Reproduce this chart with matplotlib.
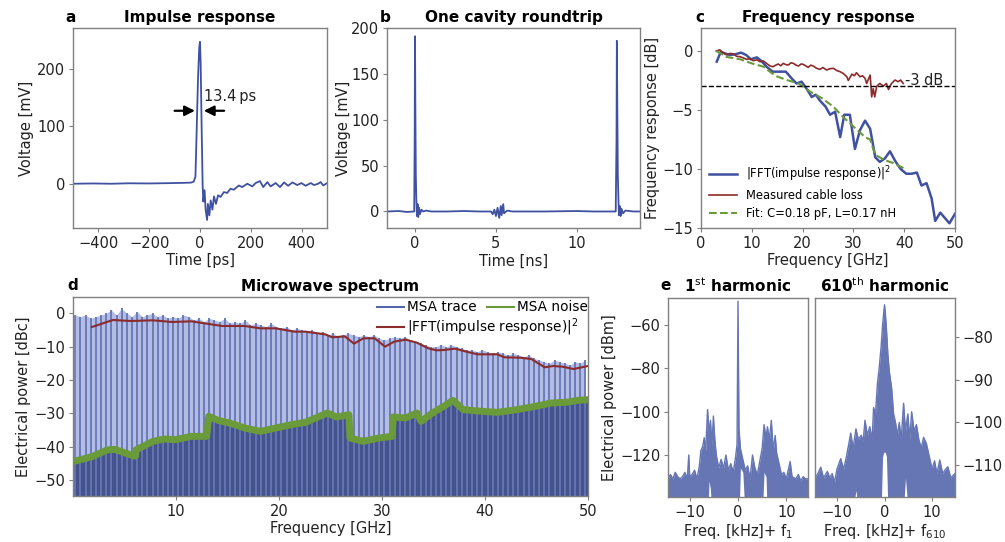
import numpy as np
import matplotlib
matplotlib.use("Agg")
import matplotlib.pyplot as plt
from matplotlib.lines import Line2D

plt.rcParams.update({"font.family": "DejaVu Sans", "font.size": 10.5,
                     "axes.edgecolor": "#808080", "xtick.color": "#808080",
                     "ytick.color": "#808080", "xtick.labelcolor": "#222222",
                     "ytick.labelcolor": "#222222", "axes.labelcolor": "#222222",
                     "axes.linewidth": 1.0, "xtick.major.pad": 2.5, "ytick.major.pad": 2.5,
                     "xtick.major.size": 3, "ytick.major.size": 3, "axes.labelpad": 2})
BLUE, RED, GREEN, NAVY = "#3f51a0", "#8c2b2b", "#6a9a3a", "#45538c"
EBLUE = "#6676b4"

# ---- a: impulse response ----
t_a = [-500, -420, -350, -280, -200, -130, -70, -35, -25, -18, -13, -8, -3, 0, 2.6, 6.6,
       10.5, 13, 18, 22, 28, 31, 37, 42, 49, 55, 63, 71, 81, 94, 107, 120, 133, 153, 166,
       186, 206, 219, 236, 249, 265, 278, 298, 315, 331, 347, 364, 383, 399, 416, 436,
       449, 465, 475, 485, 500]
v_a = [0, 0.5, 0, 0.8, 0.5, 1, 1.5, 2, 3.5, 12, 94, 181, 237, 247, 210, 94,
       -5, -31, -11, -45, -63, -35, -55, -29, -45, -22, -35, -20, -23, -14.5, -16, -8.7, -10.4, -3, -5.8,
       0, -4.6, 1.2, 4.6, -5.8, 2.9, -4.6, 1.2, -5.8, 2.3, -3.5, 2.3, -2.3, 1.2, -3.5, 1.2,
       -2.3, 0, 3, -3, 1]

# ---- b: one cavity roundtrip ----
t_b = [-1.73, -1.0, -0.5, -0.05, -0.02, 0, 0.02, 0.05, 0.08, 0.12, 0.16, 0.2, 0.25, 0.3,
       0.4, 0.5, 0.7, 1, 2, 3, 4, 4.7, 4.8, 4.9, 5.0, 5.1, 5.2, 5.3, 5.35, 5.45, 5.5, 5.7,
       6, 8, 10, 11, 12, 12.4, 12.45, 12.47, 12.5, 12.53, 12.57, 12.6, 12.65, 12.7, 12.75,
       12.85, 13, 13.5, 13.9]
v_b = [0, 0.5, -0.5, 0, 80, 191, 120, 40, 15, -5, 8, -6, 4, -3,
       2, 0, 1, 0, 0, 0.5, 0, 0, -3, 2, -5, 4, -7, 6, -4, 8, -2, 1,
       0, 0, 0.5, 0, 0, 0, 80, 186, 110, 40, 12, -4, 6, -5, 3,
       -2, 1, 0, 0]

# ---- c: frequency response ----
f_fft = [3.1, 3.9, 4.7, 5.7, 6.7, 7.9, 8.9, 9.8, 11.0, 11.9, 12.9, 14.1, 15.2, 16.7, 17.8,
         18.8, 19.8, 20.8, 21.8, 22.6, 23.4, 24.5, 25.4, 26.4, 27.4, 28.2, 29.3, 30.3, 31.3,
         32.3, 33.3, 34.3, 35.2, 36.2, 37.2, 38.2, 39.3, 40.4, 41.5, 42.5, 43.4, 44.4, 45.4,
         46.1, 47.1, 48.9, 50.0]
p_fft = [-0.9, -0.06, -0.2, -0.34, -0.28, -0.14, -0.34, -0.7, -0.54, -0.85, -1.33, -1.75,
         -1.75, -1.75, -2.3, -2.75, -2.6, -3.2, -3.9, -3.7, -4.2, -4.7, -5.4, -5.15, -7.3,
         -5.4, -5.4, -8.3, -6.7, -5.9, -6.6, -9.0, -9.4, -9.1, -8.5, -9.3, -10.0, -10.4,
         -10.4, -10.3, -11.4, -11.2, -12.5, -14.4, -13.7, -14.6, -13.8]
f_cable = [3.0, 3.7, 4.3, 5.05, 5.7, 6.4, 7.0, 7.7, 8.4, 9.0, 9.6, 10.3, 11.0, 11.6, 12.3,
           12.9, 13.6, 14.2, 14.7, 15.2, 15.7, 16.2, 16.7, 17.2, 17.7, 18.2, 18.7, 19.2,
           19.7, 20.1, 20.6, 21.1, 21.6, 22.1, 22.7, 23.4, 24.0, 24.7, 25.4, 26.1, 26.7,
           27.4, 28.0, 28.7, 29.0, 29.7, 30.2, 30.6, 31.3, 31.8, 32.3, 32.6, 33.3, 33.6,
           33.9, 34.2, 34.6, 35.2, 35.9, 36.5, 36.9, 37.5, 38.2, 38.8, 39.3, 39.8]
p_cable = [0.0, 0.1, -0.15, -0.33, -0.2, -0.25, -0.45, -0.48, -0.6, -0.71, -0.65, -0.82,
           -0.75, -0.9, -0.85, -1.05, -1.27, -1.33, -1.2, -1.1, -1.25, -1.05, -1.15, -1.19,
           -1.0, -1.05, -1.2, -1.27, -1.1, -1.13, -1.25, -1.39, -1.2, -1.27, -1.45, -1.56,
           -1.4, -1.61, -1.5, -1.47, -1.65, -1.76, -1.9, -2.18, -2.5, -1.96, -2.1, -1.84,
           -2.18, -2.1, -2.32, -2.75, -2.04, -3.89, -3.18, -3.89, -2.98, -2.75, -2.98,
           -2.75, -3.26, -2.75, -2.46, -2.6, -2.46, -2.75]
f_fit = [3.0, 5.0, 7.7, 10.0, 12.3, 14.6, 16.9, 19.2, 21.5, 23.8, 26.0, 28.0, 30.0, 32.3,
         33.3, 34.3, 36.2, 37.9, 40.0]
p_fit = [0.0, -0.5, -0.7, -1.05, -1.33, -2.1, -2.46, -2.75, -3.45, -4.0, -4.7, -5.6, -6.4,
         -7.3, -7.5, -8.8, -9.25, -9.5, -9.95]

# ---- d: microwave spectrum ----
comb_f = list(np.arange(0.25, 50, 0.5))
comb_p = [-0.5, -1, -0.5, -1.5, -1, -0.5, 0, 1, -0.5, 1.5, 0, -1, 0.5, -1, -0.5, 0, -1, -0.5,
          -1.5, -1, -1.5, -0.5, -1, -2, -1.5, -2.5, -1.5, -2, -2.5, -1.5, -3, -2.5, -3, -2,
          -3.5, -3, -3.5, -4, -3, -4, -4.5, -4, -5, -4.5, -5, -5.5, -5, -6, -5.5, -6.5, -6,
          -7, -6.5, -6, -6.5, -7, -6.5, -7, -6.5, -7.5, -8, -7.5, -7, -7.5, -7, -8, -8.5,
          -9, -9.5, -10, -10, -9.5, -10, -9.5, -10, -10.5, -11, -11, -11.5, -11, -11.5, -12,
          -11.5, -12, -12.5, -12, -12.5, -13, -12.5, -13.5, -14, -14.5, -15, -14, -14.5,
          -15, -15.5, -14.5, -15, -14]
noise_f = [0.0, 1.86, 3.34, 4.08, 5.2, 5.94, 6.1, 6.12, 7.8, 8.9, 10.0, 11.5, 13.0, 13.2, 14.1,
           15.2, 16.7, 18.2, 19.7, 21.2, 22.6, 23.8, 24.7, 25.6, 26.8, 26.9, 28.2, 29.7,
           31.0, 31.1, 32.3, 33.4, 33.8, 34.9, 36.0, 36.9, 37.9, 39.7, 41.2, 43.1, 44.9,
           46.4, 47.9, 49.0, 50.0]
noise_p = [-44.5, -43.0, -41.0, -40.8, -42.0, -42.8, -42.8, -41.0, -38.4, -37.7, -37.9,
           -36.9, -36.9, -30.9, -32.1, -32.9, -34.4, -35.4, -34.4, -33.4, -32.7, -31.1,
           -29.9, -31.1, -30.4, -37.4, -38.4, -37.4, -36.9, -31.1, -31.4, -29.9, -32.4,
           -29.9, -27.9, -26.1, -28.9, -29.4, -29.7, -28.9, -27.9, -26.9, -26.7, -26.1, -25.9]
ffti_f = [1.86, 3.9, 5.6, 7.8, 9.65, 11.5, 13.0, 14.5, 16.7, 18.2, 19.7, 21.5, 22.6, 24.5,
          25.2, 26.4, 27.3, 28.2, 29.3, 30.3, 31.2, 32.3, 33.4, 34.5, 35.3, 36.0, 37.1,
          38.2, 39.3, 41.2, 41.9, 43.4, 44.5, 45.8, 46.6, 47.5, 48.6, 50.0]
ffti_p = [-4.1, -2.0, -2.3, -2.1, -2.6, -2.4, -3.1, -3.8, -3.8, -4.5, -4.5, -5.5, -5.5,
          -6.3, -7.2, -6.9, -9.1, -7.5, -7.5, -10.0, -8.5, -7.9, -8.8, -10.5, -11.1, -11.0,
          -10.6, -11.5, -12.3, -12.3, -13.2, -13.3, -13.7, -16.2, -15.8, -16.0, -16.7, -15.8]

# ---- e: harmonics ----
h1_f = [-14.5, -14, -13.5, -13, -12.5, -12, -11.5, -11, -10.5, -10.2, -10, -9.5, -9, -8.5,
        -8, -7.7, -7.3, -7, -6.7, -6.3, -6, -5.7, -5.4, -5.1, -4.8, -4.5, -4, -3.5, -3,
        -2.5, -2, -1.5, -1, -0.5, -0.2, 0, 0.2, 0.5, 1, 1.5, 2, 2.5, 3, 3.5, 4, 4.5, 5,
        5.4, 5.8, 6.1, 6.5, 6.9, 7.3, 7.7, 8, 8.5, 9, 9.5, 10, 10.8, 11.2, 12, 12.5, 13,
        13.5, 14, 14.5]
h1_top = [-131, -129, -131, -128, -130, -131, -130, -128, -131, -120, -130, -129, -127,
          -131, -125, -118, -116, -112, -118, -99, -110, -104, -116, -102, -113, -120, -126,
          -122, -126, -120, -127, -124, -128, -121, -115, -49, -108, -117, -122, -127, -125,
          -131, -120, -126, -129, -123, -117, -106, -112, -107, -113, -104, -118, -111, -119,
          -124, -129, -128, -131, -123, -130, -131, -129, -132, -130, -131, -131]
h1_bot = [-150, -150, -150, -150, -150, -150, -150, -150, -150, -150, -150, -150, -150,
          -150, -150, -150, -150, -150, -150, -150, -132, -136, -150, -150, -150, -150,
          -150, -150, -150, -150, -150, -150, -150, -150, -150, -150, -150, -126, -128,
          -150, -150, -150, -150, -150, -150, -150, -150, -128, -130, -150, -150, -150,
          -150, -150, -150, -150, -150, -150, -150, -150, -150, -150, -150, -150, -150,
          -150, -150]
h610_f = [-14.6, -14, -13.4, -12.8, -12, -11.5, -11, -10.5, -10, -9.2, -8.6, -8, -7.5, -7.1,
          -6.6, -6, -5.5, -4.9, -4.5, -4.1, -3.6, -3.1, -2.6, -2.3, -1.9, -1.5, -1.1, -0.7,
          -0.4, -0.15, 0, 0.15, 0.4, 0.7, 1, 1.5, 1.9, 2.3, 2.7, 3.1, 3.5, 4, 4.4, 4.9, 5.3,
          5.7, 6.2, 6.7, 7.2, 7.7, 8.2, 8.8, 9.4, 10, 10.5, 11, 11.6, 12.2, 12.8, 13.3, 13.9,
          14.8]
h610_top = [-113, -112, -110.5, -113, -111.5, -113, -112, -114, -111, -108.5, -111, -108,
            -105, -102.5, -106, -101.5, -104, -103, -104.5, -99.5, -103, -101, -104, -96.5,
            -98, -91, -87, -82, -77, -74, -72.4, -74, -78, -84, -88, -92, -98, -100, -103,
            -100, -104, -95.5, -102, -98, -104, -97.5, -102, -100.5, -104, -106, -103.5,
            -105, -108, -111, -109, -112, -108.8, -112, -111, -110.4, -113, -112]
h610_bot = [-120, -120, -120, -120, -120, -120, -120, -120, -120, -120, -120, -120, -120,
            -120, -120, -116, -120, -120, -120, -120, -120, -120, -120, -120, -120, -120,
            -120, -120, -108, -107, -107, -107, -108, -120, -120, -120, -120, -120, -120,
            -120, -120, -120, -113, -120, -120, -120, -120, -120, -120, -120, -120, -120,
            -120, -120, -120, -120, -120, -120, -120, -120, -120, -120]

W, H = 1005, 542
fig = plt.figure(figsize=(W / 100, H / 100), dpi=100)
def box(l, t, r, b):
    return [l / W, 1 - b / H, (r - l) / W, (b - t) / H]

ax_a = fig.add_axes(box(73, 28, 327, 228))
ax_b = fig.add_axes(box(387, 28, 640, 228))
ax_c = fig.add_axes(box(701, 28, 955, 228))
ax_d = fig.add_axes(box(72.7, 297, 588, 496))
ax_e1 = fig.add_axes(box(668, 298, 808, 497))
ax_e2 = fig.add_axes(box(815, 298, 955, 497))
TITLE = dict(fontweight="bold", fontsize=11, pad=4)

# a
ax_a.plot(t_a, v_a, color=BLUE, lw=1.3)
ax_a.set_xlim(-500, 500); ax_a.set_ylim(-77, 271)
ax_a.set_xticks([-400, -200, 0, 200, 400]); ax_a.set_yticks([0, 100, 200])
ax_a.set_xlabel("Time [ps]"); ax_a.set_ylabel("Voltage [mV]")
arrow = dict(arrowstyle="-|>", color="black", lw=1.6, mutation_scale=15, shrinkA=0, shrinkB=0)
ax_a.annotate("", xy=(-20, 127), xytext=(-100, 127), arrowprops=arrow)
ax_a.annotate("", xy=(15, 127), xytext=(95, 127), arrowprops=arrow)
ax_a.text(16, 151, "13.4\u2009ps", va="center", ha="left", color="#222222")
ax_a.set_title("Impulse response", **TITLE)

# b
ax_b.plot(t_b, v_b, color=BLUE, lw=1.3)
ax_b.set_xlim(-1.73, 13.9); ax_b.set_ylim(-18, 200)
ax_b.set_xticks([0, 5, 10]); ax_b.set_yticks([0, 50, 100, 150, 200])
ax_b.set_xlabel("Time [ns]"); ax_b.set_ylabel("Voltage [mV]", labelpad=0)
ax_b.set_title("One cavity roundtrip", **TITLE)

# c
ax_c.plot(f_fft, p_fft, color=BLUE, lw=1.8, label=r"|FFT(impulse response)|$^2$")
ax_c.plot(f_cable, p_cable, color=RED, lw=1.2, label="Measured cable loss")
ax_c.plot(f_fit, p_fit, color=GREEN, lw=1.5, ls="--", label="Fit: C=0.18 pF, L=0.17 nH")
ax_c.axhline(-3, color="black", lw=1, ls="--")
ax_c.text(40.2, -2.46, "-3 dB", va="center", ha="left", color="#222222")
ax_c.set_xlim(0, 50); ax_c.set_ylim(-15, 1.95)
ax_c.set_xticks([0, 10, 20, 30, 40, 50]); ax_c.set_yticks([0, -5, -10, -15])
ax_c.set_xlabel("Frequency [GHz]"); ax_c.set_ylabel("Frequency response [dB]")
ax_c.legend(loc="lower left", fontsize=8.3, frameon=False, handlelength=2.4,
            borderaxespad=0.3, labelspacing=0.45)
ax_c.set_title("Frequency response", **TITLE)

# d
ax_d.fill_between(comb_f, -60, comb_p, color="#b3bde3", lw=0)
ax_d.vlines(comb_f, -60, comb_p, color="#6676b6", lw=1.3)
ax_d.fill_between(noise_f, -60, noise_p, color=NAVY, lw=0)
ax_d.plot(noise_f, noise_p, color=GREEN, lw=5)
ax_d.plot(ffti_f, ffti_p, color=RED, lw=1.5)
ax_d.set_xlim(0, 50); ax_d.set_ylim(-54.8, 4.9)
ax_d.set_xticks([10, 20, 30, 40, 50]); ax_d.set_yticks([0, -10, -20, -30, -40, -50])
ax_d.set_xlabel("Frequency [GHz]"); ax_d.set_ylabel("Electrical power [dBc]")
leg_kw = dict(fontsize=9.8, frameon=False, handlelength=2.0, handletextpad=0.2,
              columnspacing=0.8, borderaxespad=0, borderpad=0, loc="center left")
leg1 = ax_d.legend([Line2D([], [], color="#5566aa", lw=1.5), Line2D([], [], color=GREEN, lw=1.5)],
                   ["MSA trace", "MSA noise"], ncol=2, bbox_to_anchor=(0.59, 0.948), **leg_kw)
ax_d.add_artist(leg1)
ax_d.legend([Line2D([], [], color=RED, lw=1.5)], [r"|FFT(impulse response)|$^2$"],
            bbox_to_anchor=(0.59, 0.848), **leg_kw)
ax_d.set_title("Microwave spectrum", **TITLE)

# e
ax_e1.fill_between(h1_f, h1_bot, h1_top, color=EBLUE, lw=0)
ax_e1.plot(h1_f, h1_top, color=EBLUE, lw=1)
ax_e1.set_xlim(-14.5, 14.5); ax_e1.set_ylim(-139.4, -47.5)
ax_e1.set_xticks([-10, 0, 10]); ax_e1.set_yticks([-60, -80, -100, -120])
ax_e1.set_xlabel(r"Freq. [kHz]+ f$_1$"); ax_e1.set_ylabel("Electrical power [dBm]")
ax_e1.set_title(r"1$^{\rm st}$ harmonic", **TITLE)

ax_e2.fill_between(h610_f, h610_bot, h610_top, color=EBLUE, lw=0)
ax_e2.plot(h610_f, h610_top, color=EBLUE, lw=1)
ax_e2.set_xlim(-14.6, 14.8); ax_e2.set_ylim(-117.5, -70.8)
ax_e2.set_xticks([-10, 0, 10]); ax_e2.set_yticks([-80, -90, -100, -110])
ax_e2.yaxis.tick_right()
ax_e2.set_xlabel(r"Freq. [kHz]+ f$_{610}$")
ax_e2.set_title(r"610$^{\rm th}$ harmonic", **TITLE)

for lab, x, y in [("a", 65, 17), ("b", 380, 17), ("c", 695, 17), ("d", 67, 286), ("e", 660, 286)]:
    fig.text(x / W, 1 - y / H, lab, fontweight="bold", fontsize=11, va="center", ha="left")

fig.savefig("out.png", dpi=100)
